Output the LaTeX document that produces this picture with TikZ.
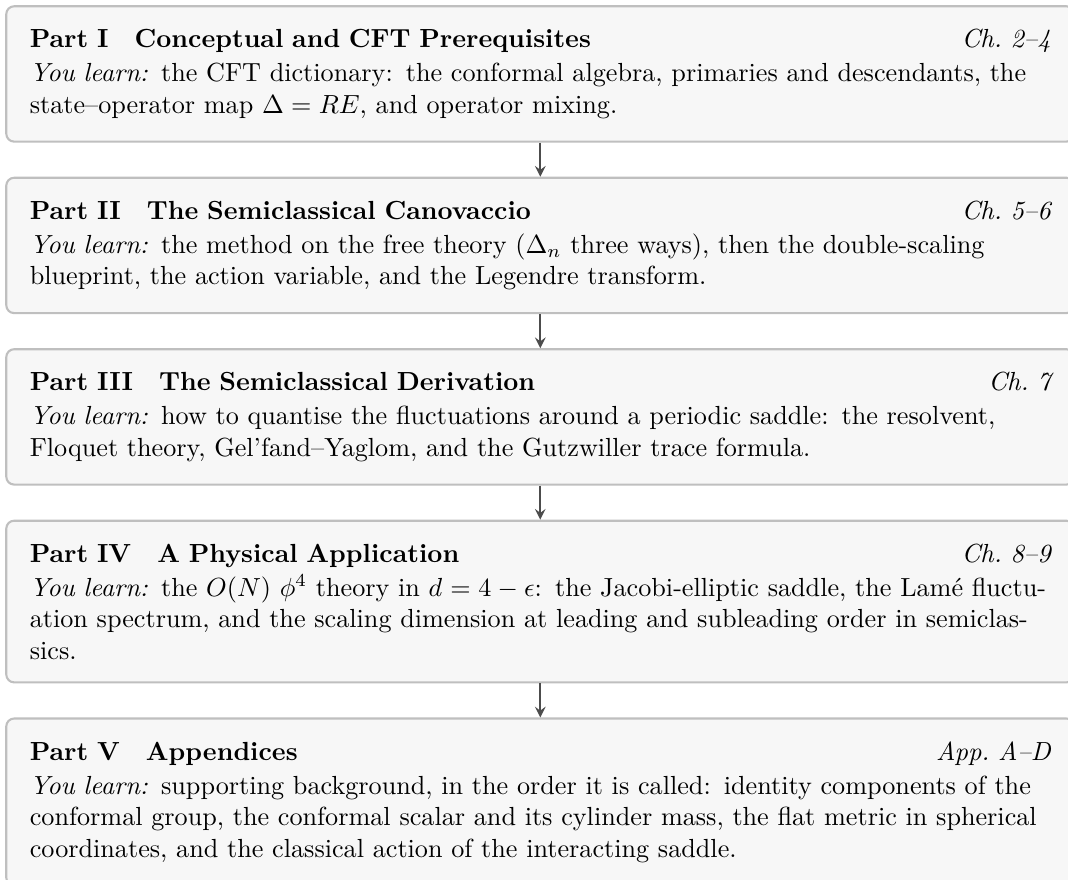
\documentclass[tikz,border=0pt]{standalone}
\usepackage{amsmath}
\usetikzlibrary{positioning}

\colorlet{partfill}{black!3}
\colorlet{partline}{black!25}
\colorlet{partarrow}{black!70}
\newcommand{\parthead}[3]{{\bfseries Part #1\quad #2}\hfill{\itshape #3}\par\vspace{1pt}}
\newcommand{\youlearn}{\textit{You learn:} }

\begin{document}
\begin{tikzpicture}[
					partbox/.style={rectangle,draw=partline,fill=partfill,line width=0.8pt,
						rounded corners=3pt,text width=390pt,inner xsep=9pt,inner ysep=8.8pt,align=left},
					node distance=13pt,
					]
					\useasboundingbox (-2pt,2pt) rectangle ++(408pt,-336pt);
					\node [partbox,anchor=north west] (p1) at (0,0) {\parthead{I}{Conceptual and CFT Prerequisites}{Ch.~2--4}
						\youlearn the CFT dictionary: the conformal algebra, primaries and descendants, the state--operator map $\Delta = RE$, and operator mixing.};
					\node [partbox,below=of p1] (p2) {\parthead{II}{The Semiclassical Canovaccio}{Ch.~5--6}
						\youlearn the method on the free theory ($\Delta_n$ three ways), then the double-scaling blueprint, the action variable, and the Legendre transform.};
					\node [partbox,below=of p2] (p3) {\parthead{III}{The Semiclassical Derivation}{Ch.~7}
						\youlearn how to quantise the fluctuations around a periodic saddle: the resolvent, Floquet theory, Gel'fand--Yaglom, and the Gutzwiller trace formula.};
					\node [partbox,below=of p3] (p4) {\parthead{IV}{A Physical Application}{Ch.~8--9}
						\youlearn the $O(N)$ $\phi^4$ theory in $d=4-\epsilon$: the Jacobi-elliptic saddle, the Lamé fluctuation spectrum, and the scaling dimension at leading and subleading order in semiclassics.};
					\node [partbox,below=of p4] (p5) {\parthead{V}{Appendices}{App.~A--D}
						\youlearn supporting background, in the order it is called: identity components of the conformal group, the conformal scalar and its cylinder mass, the flat metric in spherical coordinates, and the classical action of the interacting saddle.};
					\foreach \a/\b in {p1/p2,p2/p3,p3/p4,p4/p5}
						\draw[-stealth,partarrow,line width=0.8pt] (\a) -- (\b);
				\end{tikzpicture}
\end{document}
